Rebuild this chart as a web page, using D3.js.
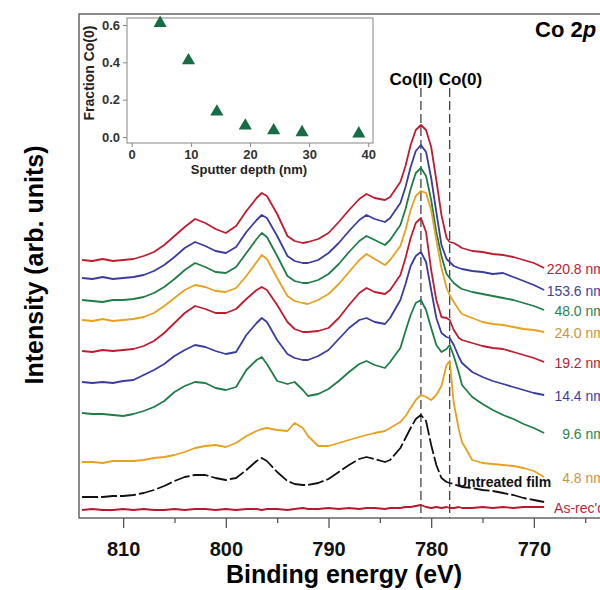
<!DOCTYPE html>
<html>
<head>
<meta charset="utf-8">
<script src="https://cdn.jsdelivr.net/npm/d3@7"></script>
<style>
  body { margin: 0; background: #fff; }
  svg { font-family: "Liberation Sans", Arial, sans-serif; }
</style>
</head>
<body>
<svg id="chart" width="600" height="590"></svg>
<script>
// binding energy grid (eV), shared by every spectrum
const energy = [814, 813, 812, 811, 810, 809, 808, 807, 806, 805, 804, 803, 802, 801, 800, 799, 798, 797, 796.5, 796,
  795, 794, 793.3, 792.5, 792, 791, 790, 789, 788, 787, 786.3, 785.5, 784.5, 784, 783, 782.5, 782, 781.5, 781, 780.5,
  780, 779.5, 779, 778.5, 778.2, 777.8, 777.3, 777, 776, 775, 774, 773, 772, 771, 770, 769];

// stacked intensities (arb. units), top to bottom
const s220_8 = [258,257,259,257,258,259,262,266,273,282, 291,299,295,289,285,292,307,320,325,322,
  304,282,277,275,276,279,285,296,308,319, 324,320,318,321,336,352,373,388,393,388,
  371,338,303,280,276,275,272,270,267,266, 264,263,261,258,255,250];
const s153_6 = [240,239,241,239,240,241,243,247,253,261, 270,276,272,267,265,271,286,298,303,300,
  282,262,257,255,255,258,265,275,287,298, 303,299,296,300,315,331,351,367,373,366,
  340,306,273,259,256,252,250,249,247,246, 244,245,241,237,233,228];
const s48_0 = [218,217,216,218,218,219,221,225,231,239, 248,255,251,246,245,251,265,279,285,281,
  262,242,237,235,235,238,244,254,266,277, 282,278,273,278,293,309,329,345,350,342,
  318,286,262,244,240,235,231,229,226,224, 222,220,218,215,212,208];
const s24_0 = [198,197,199,197,198,199,201,205,212,220, 228,233,231,227,226,230,242,256,263,259,
  240,222,217,215,214,218,224,234,246,258, 264,259,253,258,272,288,308,322,327,325,
  308,278,250,230,223,216,208,204,200,196, 194,193,191,189,188,186];
const s19_2 = [167,166,168,167,168,169,172,177,185,195, 205,212,209,205,205,209,219,228,231,228,
  213,196,189,186,186,187,190,200,213,225, 230,226,224,228,243,260,280,295,300,286,
  248,218,201,200,198,188,180,178,175,172, 170,169,166,163,160,156];
const s14_4 = [136,135,136,135,137,138,143,148,154,162, 168,173,171,167,164,166,183,195,200,196,
  178,164,160,158,158,162,168,179,190,198, 200,196,194,200,218,234,252,262,266,256,
  228,200,185,181,180,173,161,155,146,141, 137,134,131,128,125,123];
const s9_6 = [105,104,104,103,102,104,107,111,117,126, 132,136,135,130,128,131,148,158,161,154,
  137,134,136,128,122,124,129,137,146,154, 157,153,150,156,170,187,203,215,218,208,
  190,173,166,169,173,162,145,133,121,114, 108,103,99,94,90,85];
const s4_8 = [56,56,55,57,57,57,58,60,61,63, 66,70,72,73,71,75,82,87,89,90,
  88,87,95,90,82,72,72,75,78,81, 83,85,87,90,96,102,110,118,123,121,
  118,123,132,153,157,115,88,76,58,55, 54,53,52,50,47,41];
const untreated = [21,21,21,22,22,23,25,28,32,37, 41,43,43,40,38,40,48,57,60,57,
  46,37,34,33,33,35,39,46,53,59, 61,59,56,58,70,80,90,99,103,97,
  73,53,40,36,35,34,32,31,30,28, 27,25,23,20,18,16];
const asReceived = [8,9,8,8,9,8,9,8,8,9, 8,9,9,8,9,8,9,9,8,9,
  9,8,9,10,9,9,10,9,10,9, 10,10,9,10,10,11,11,12,13,11,
  10,11,10,11,10,10,11,10,10,11, 10,11,10,11,11,11];

const seriesNames = ["220.8 nm", "153.6 nm", "48.0 nm", "24.0 nm", "19.2 nm", "14.4 nm", "9.6 nm", "4.8 nm", "Untreated film", "As-rec'd"];
const seriesValues = [s220_8, s153_6, s48_0, s24_0, s19_2, s14_4, s9_6, s4_8, untreated, asReceived];
const seriesColors = ["#c01c30", "#3b3c9f", "#1f7d47", "#e6a11e", "#c01c30", "#3b3c9f", "#1f7d47", "#e6a11e", "#111", "#b8182e"];
const labelColors = ["#b82235", "#3f3fa0", "#2b8550", "#c9973a", "#b82235", "#3f3fa0", "#2b8550", "#c9973a", "#111", "#b8283a"];

// reference energies
const refLines = [{ name: "Co(II)", e: 781.0 }, { name: "Co(0)", e: 778.2 }];

// inset: fraction of Co(0) vs sputter depth
const depth = [4.8, 9.6, 14.4, 19.2, 24.0, 28.8, 38.4];
const fractionCo0 = [0.61, 0.41, 0.135, 0.06, 0.035, 0.025, 0.018];

const svg = d3.select("#chart");

const x = d3.scaleLinear().domain([814.3, 762]).range([79, 616]);
const y = d3.scaleLinear().domain([0, 504]).range([518, 14]);

// frame
svg.append("rect")
  .attr("x", 79).attr("y", 14)
  .attr("width", 580).attr("height", 504)
  .attr("fill", "none").attr("stroke", "#666").attr("stroke-width", 1.5);

// x axis, major + minor ticks
const xAxis = svg.append("g")
  .attr("transform", "translate(0,518)")
  .call(d3.axisBottom(x).tickValues([810, 800, 790, 780, 770]).tickSize(10).tickPadding(14).tickFormat(d3.format("d")));
xAxis.select(".domain").remove();
xAxis.selectAll("line").attr("stroke", "#555").attr("stroke-width", 1.3);
xAxis.selectAll("text").attr("font-size", 20).attr("font-weight", "bold").attr("fill", "#111");

const xMinor = svg.append("g")
  .attr("transform", "translate(0,518)")
  .call(d3.axisBottom(x).tickValues([805, 795, 785, 775, 765]).tickSize(5).tickFormat(""));
xMinor.select(".domain").remove();
xMinor.selectAll("line").attr("stroke", "#555").attr("stroke-width", 1.3);

svg.append("text")
  .attr("x", 344).attr("y", 583)
  .attr("text-anchor", "middle")
  .attr("font-size", 25).attr("font-weight", "bold")
  .text("Binding energy (eV)");

svg.append("text")
  .attr("transform", "translate(43,265) rotate(-90)")
  .attr("text-anchor", "middle")
  .attr("font-size", 25).attr("font-weight", "bold")
  .text("Intensity (arb. units)");

// dashed reference lines
svg.selectAll(".ref")
  .data(refLines)
  .enter().append("line")
  .attr("x1", d => x(d.e)).attr("x2", d => x(d.e))
  .attr("y1", 88).attr("y2", 518)
  .attr("stroke", "#444").attr("stroke-width", 1.3)
  .attr("stroke-dasharray", "9,4");

svg.append("text")
  .attr("x", x(781.0) + 12).attr("y", 85)
  .attr("text-anchor", "end")
  .attr("font-size", 17).attr("font-weight", "bold")
  .text("Co(II)");
svg.append("text")
  .attr("x", x(778.2) - 11).attr("y", 85)
  .attr("font-size", 17).attr("font-weight", "bold")
  .text("Co(0)");

const title = svg.append("text")
  .attr("x", 535).attr("y", 37)
  .attr("font-size", 22).attr("font-weight", "bold");
title.append("tspan").text("Co 2");
title.append("tspan").attr("font-style", "italic").text("p");

// spectra
const line = d3.line()
  .x((d, i) => x(energy[i]))
  .y(d => y(d));

svg.selectAll(".spec")
  .data(seriesValues)
  .enter().append("path")
  .attr("class", "spec")
  .attr("d", d => line(d))
  .attr("fill", "none")
  .attr("stroke", (d, i) => seriesColors[i])
  .attr("stroke-width", 1.8)
  .attr("stroke-linejoin", "round")
  .attr("stroke-dasharray", (d, i) => seriesNames[i] === "Untreated film" ? "16,3" : null);

seriesValues.forEach((vals, i) => {
  if (seriesNames[i] === "Untreated film") {
    svg.append("text")
      .attr("x", 457).attr("y", 487)
      .attr("font-size", 14).attr("font-weight", "bold")
      .attr("fill", labelColors[i])
      .text(seriesNames[i]);
  } else {
    svg.append("text")
      .attr("x", 605).attr("y", y(vals[vals.length - 1]) + 1)
      .attr("text-anchor", "end")
      .attr("dominant-baseline", "central")
      .attr("font-size", 14)
      .attr("fill", labelColors[i])
      .text(seriesNames[i]);
  }
});

// inset
const ix = d3.scaleLinear().domain([-0.8, 40.8]).range([127, 373]);
const iy = d3.scaleLinear().domain([-0.032, 0.6375]).range([143, 18]);

svg.append("rect")
  .attr("x", 127).attr("y", 18)
  .attr("width", 246).attr("height", 125)
  .attr("fill", "#fff").attr("stroke", "#999").attr("stroke-width", 1.2);

const ixAxis = svg.append("g")
  .attr("transform", "translate(0,143)")
  .call(d3.axisBottom(ix).tickValues([0, 10, 20, 30, 40]).tickSize(4).tickPadding(3));
const iyAxis = svg.append("g")
  .attr("transform", "translate(127,0)")
  .call(d3.axisLeft(iy).tickValues([0, 0.2, 0.4, 0.6]).tickSize(4).tickPadding(3).tickFormat(d3.format(".1f")));
[ixAxis, iyAxis].forEach(g => {
  g.select(".domain").remove();
  g.selectAll("line").attr("stroke", "#888");
  g.selectAll("text").attr("font-size", 13).attr("font-weight", "bold").attr("fill", "#333");
});

svg.append("text")
  .attr("x", 249).attr("y", 174)
  .attr("text-anchor", "middle")
  .attr("font-size", 13).attr("font-weight", "bold").attr("fill", "#222")
  .text("Sputter depth (nm)");

svg.append("text")
  .attr("transform", "translate(94,73) rotate(-90)")
  .attr("text-anchor", "middle")
  .attr("font-size", 14).attr("font-weight", "bold").attr("fill", "#222")
  .text("Fraction Co(0)");

svg.selectAll(".tri")
  .data(depth)
  .enter().append("path")
  .attr("d", d3.symbol(d3.symbolTriangle).size(75))
  .attr("transform", (d, i) => `translate(${ix(d)},${iy(fractionCo0[i])})`)
  .attr("fill", "#176b45");
</script>
</body>
</html>
